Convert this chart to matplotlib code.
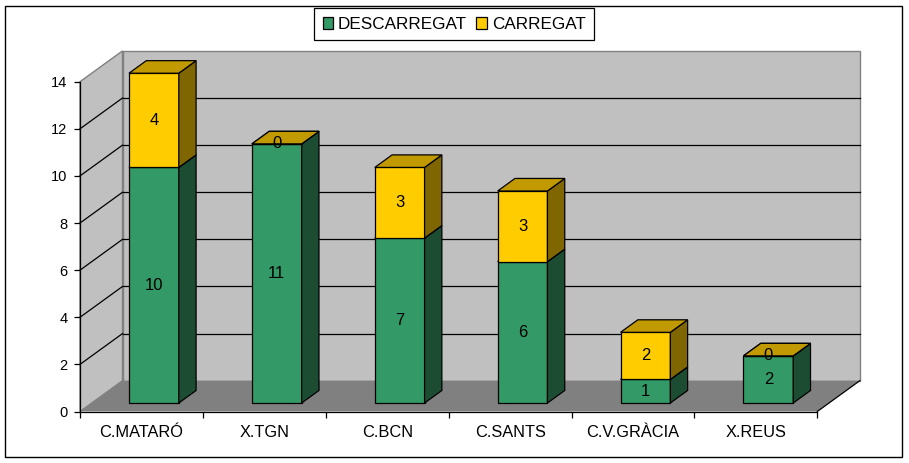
import matplotlib
matplotlib.use("Agg")
import matplotlib.pyplot as plt
from matplotlib.patches import Polygon, Rectangle, Patch

categories = ["C.MATARÓ", "X.TGN", "C.BCN", "C.SANTS", "C.V.GRÀCIA", "X.REUS"]
descarregat = [10, 11, 7, 6, 1, 2]
carregat = [4, 0, 3, 3, 2, 0]
series_names = ["DESCARREGAT", "CARREGAT"]
yticks = [0, 2, 4, 6, 8, 10, 12, 14]

plt.rcParams['font.family'] = ['Liberation Sans', 'DejaVu Sans']

W_PX, H_PX = 909, 463
fig = plt.figure(figsize=(W_PX / 100, H_PX / 100), dpi=100)
fig.patch.set_facecolor("white")

# front plane of the plot in pixels
x_left, x_right = 80.0, 817.3
y_zero, y_top = 411.5, 81.7
ax = fig.add_axes([x_left / W_PX, (H_PX - y_zero) / H_PX,
                   (x_right - x_left) / W_PX, (y_zero - y_top) / H_PX])
n = len(categories)
ymax = yticks[-1]
ax.set_xlim(0, n)
ax.set_ylim(0, ymax)
ax.patch.set_visible(False)

cat_px = (x_right - x_left) / n
unit_px = (y_zero - y_top) / ymax
DX = 42.5 / cat_px      # depth offset in category units
DY = 30.8 / unit_px     # depth offset in value units

wall = "#C0C0C0"
edge_grey = "#808080"
floor = "#808080"

# back wall
ax.add_patch(Polygon([(DX, DY), (n + DX, DY), (n + DX, ymax + DY), (DX, ymax + DY)],
                     closed=True, facecolor=wall, edgecolor=edge_grey, lw=1.0,
                     clip_on=False, zorder=1))
# left wall
ax.add_patch(Polygon([(0, 0), (DX, DY), (DX, ymax + DY), (0, ymax)],
                     closed=True, facecolor=wall, edgecolor=edge_grey, lw=1.0,
                     clip_on=False, zorder=1))
# floor
ax.add_patch(Polygon([(0, 0), (n, 0), (n + DX, DY), (DX, DY)],
                     closed=True, facecolor=floor, edgecolor="none",
                     clip_on=False, zorder=2))
ax.plot([n, n + DX], [0, DY], color="black", lw=0.9, clip_on=False, zorder=3)

# gridlines
for v in yticks[1:-1]:
    ax.plot([DX, n + DX], [v + DY, v + DY], color="black", lw=0.9, clip_on=False, zorder=2)
    ax.plot([0, DX], [v, v + DY], color="black", lw=0.9, clip_on=False, zorder=2)

# bars
bar_w = 0.405
center_off = 0.506
d0 = 0.276
dd = 0.407

green_front, green_side, green_top = "#339966", "#1C4D33", "#267349"
yel_front, yel_side, yel_top = "#FFCC00", "#806600", "#C09A00"


def draw_box(i, bottom, top, cf, cs, ct, z):
    x0 = i + center_off - bar_w / 2 + d0 * DX
    x1 = x0 + bar_w
    b = bottom + d0 * DY
    t = top + d0 * DY
    ox, oy = dd * DX, dd * DY
    kw = dict(closed=True, edgecolor="black", lw=0.9, clip_on=False, zorder=z,
              joinstyle="miter")
    ax.add_patch(Polygon([(x0, b), (x1, b), (x1, t), (x0, t)], facecolor=cf, **kw))
    ax.add_patch(Polygon([(x1, b), (x1 + ox, b + oy), (x1 + ox, t + oy), (x1, t)],
                         facecolor=cs, **kw))
    ax.add_patch(Polygon([(x0, t), (x1, t), (x1 + ox, t + oy), (x0 + ox, t + oy)],
                         facecolor=ct, **kw))
    return (x0 + x1) / 2, (b + t) / 2


for i in range(n):
    g = descarregat[i]
    c = carregat[i]
    cx, cy = draw_box(i, 0, g, green_front, green_side, green_top, 5)
    ax.text(cx, cy, str(g), ha="center", va="center", fontsize=12, zorder=10)
    cx, cy = draw_box(i, g, g + c, yel_front, yel_side, yel_top, 6)
    ax.text(cx, cy, str(c), ha="center", va="center", fontsize=12, zorder=10)

# axes styling
for s in ["top", "right"]:
    ax.spines[s].set_visible(False)
for s in ["left", "bottom"]:
    ax.spines[s].set_color("black")
    ax.spines[s].set_linewidth(0.9)
    ax.spines[s].set_zorder(4)

ax.set_yticks(yticks)
ax.set_yticklabels([str(v) for v in yticks])
ax.tick_params(axis="y", direction="out", length=4, width=0.9, pad=5,
               labelsize=10.5, colors="black")
ax.set_xticks([i + 0.5 for i in range(n)])
ax.set_xticklabels(categories)
ax.tick_params(axis="x", which="major", length=0, pad=9.5, labelsize=11.8)
ax.set_xticks(list(range(n + 1)), minor=True)
ax.tick_params(axis="x", which="minor", direction="out", length=4, width=0.9)

# legend
handles = [Patch(facecolor=green_front, edgecolor="black", lw=0.9),
           Patch(facecolor=yel_front, edgecolor="black", lw=0.9)]
leg = fig.legend(handles, series_names, loc="upper center",
                 bbox_to_anchor=(454 / W_PX, 1 - 8 / H_PX), ncol=2,
                 fontsize=12.3, frameon=True, fancybox=False, shadow=False,
                 edgecolor="black", framealpha=1, handlelength=0.6,
                 handleheight=0.7, handletextpad=0.3, columnspacing=0.55,
                 borderpad=0.5, borderaxespad=0)
leg.get_frame().set_linewidth(0.9)

# outer border
fig.patches.append(Rectangle((5 / W_PX, 6 / H_PX), 897 / W_PX, 451 / H_PX,
                             transform=fig.transFigure, fill=False,
                             edgecolor="black", lw=1.0))

fig.savefig("out.png", dpi=100)
